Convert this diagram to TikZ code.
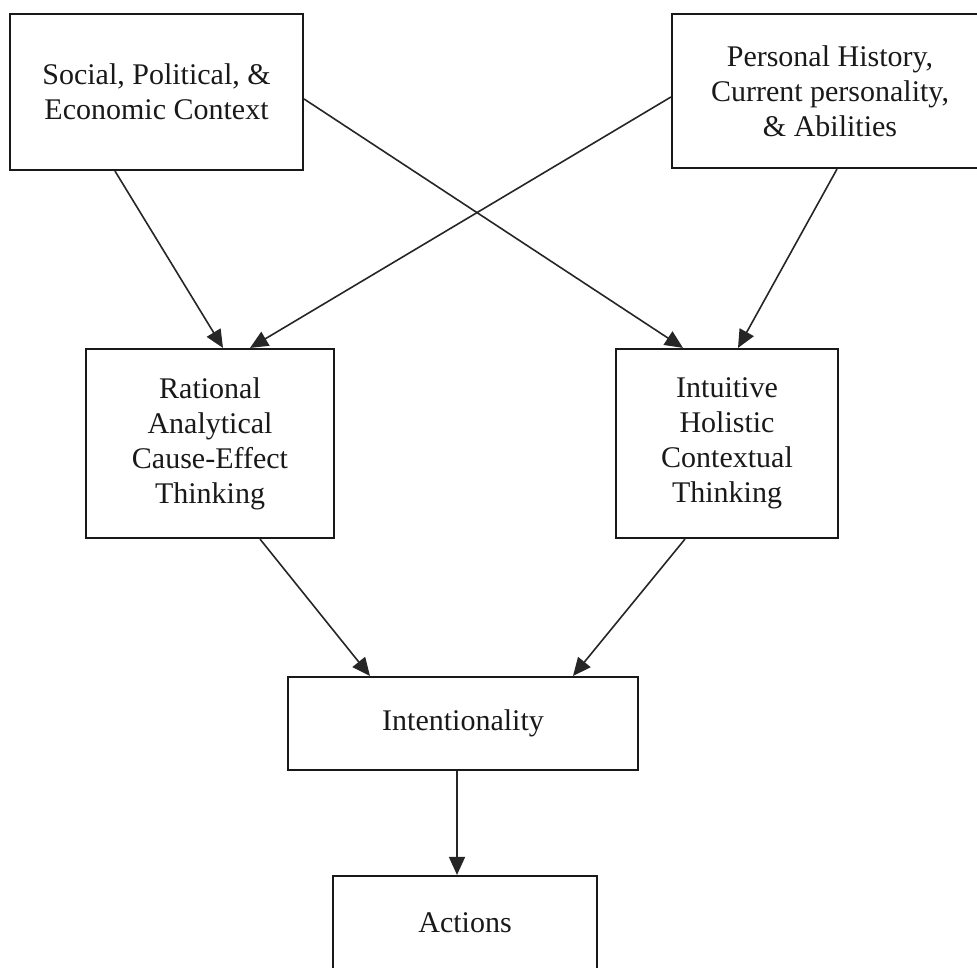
\documentclass[tikz,border=0pt]{standalone}
\usepackage{fontspec}
\setmainfont{Liberation Serif}
\usetikzlibrary{arrows.meta}
\begin{document}
\begin{tikzpicture}[x=0.75pt,y=-0.75pt,
  box/.style={draw=black!90, line width=1.6pt, align=center, inner sep=0pt,
    font=\fontsize{22.5pt}{26.2pt}\selectfont, text=black!90},
  link/.style={draw=black!85, line width=1.2pt,
    -{Triangle[length=13.5pt,width=12pt]}}]
  \useasboundingbox (0,0) rectangle (977,967);

  % context boxes
  \node[box, minimum width=219.75pt, minimum height=117pt] (ctx) at (156.5,92)
    {Social, Political, \&\\Economic Context};
  \node[box, minimum width=237pt, minimum height=115.5pt] (pers) at (830,91)
    {Personal History,\\Current personality,\\\& Abilities};

  % thinking modes
  \node[box, minimum width=186pt, minimum height=141.75pt] (rat) at (210,443.5)
    {Rational\\Analytical\\Cause-Effect\\Thinking};
  \node[box, minimum width=166.5pt, minimum height=141.75pt] (intu) at (727,443.5)
    {Intuitive\\Holistic\\Contextual\\Thinking};

  % outcome chain
  \node[box, minimum width=262.5pt, minimum height=69.75pt] (intent) at (463,723.5)
    {Intentionality};
  \node[box, minimum width=198pt, minimum height=69.75pt] (act) at (465,922.5)
    {Actions};

  % connectors
  \draw[link] ([xshift=-41.5*0.75pt]ctx.south) -- ([xshift=13*0.75pt]rat.north);
  \draw[link] ([yshift=-7*0.75pt]ctx.east) -- ([xshift=-44*0.75pt]intu.north);
  \draw[link] ([yshift=-6*0.75pt]pers.west) -- ([xshift=40*0.75pt]rat.north);
  \draw[link] ([xshift=7*0.75pt]pers.south) -- ([xshift=11*0.75pt]intu.north);
  \draw[link] ([xshift=50*0.75pt]rat.south) -- ([xshift=-93*0.75pt]intent.north);
  \draw[link] ([xshift=-42*0.75pt]intu.south) -- ([xshift=110*0.75pt]intent.north);
  \draw[link] ([xshift=-6*0.75pt]intent.south) -- ([xshift=-8*0.75pt]act.north);
\end{tikzpicture}
\end{document}
